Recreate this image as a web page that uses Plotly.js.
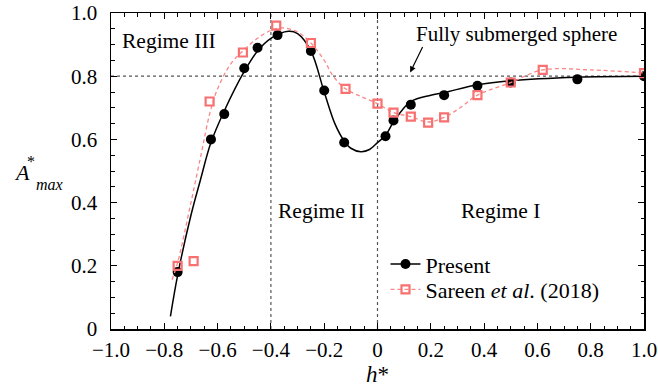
<!DOCTYPE html>
<html>
<head>
<meta charset="utf-8">
<script src="https://cdn.plot.ly/plotly-3.0.1.min.js"></script>
<style>html,body{margin:0;padding:0;background:#fff;}#chart{width:658px;height:391px;}</style>
</head>
<body>
<div id="chart"></div>
<script>
// Present study: measured points
const presentH = [-0.75, -0.625, -0.575, -0.5, -0.45, -0.375, -0.25, -0.2, -0.125, 0.03, 0.06, 0.125, 0.25, 0.375, 0.5, 0.75, 1.0];
const presentA = [0.18, 0.60, 0.68, 0.825, 0.89, 0.93, 0.88, 0.755, 0.59, 0.61, 0.66, 0.71, 0.74, 0.77, 0.78, 0.79, 0.80];
// Present study: fitted curve
const presentFitH = [-0.777, -0.75, -0.70, -0.665, -0.625, -0.575, -0.5, -0.45, -0.40, -0.334, -0.30, -0.25, -0.20, -0.16, -0.125, -0.10, -0.062, -0.03, 0.0, 0.03, 0.06, 0.125, 0.20, 0.25, 0.375, 0.5, 0.75, 1.0];
const presentFitA = [0.04, 0.17, 0.36, 0.47, 0.59, 0.69, 0.815, 0.88, 0.92, 0.942, 0.935, 0.88, 0.75, 0.65, 0.595, 0.572, 0.561, 0.568, 0.59, 0.612, 0.655, 0.72, 0.74, 0.748, 0.773, 0.786, 0.797, 0.80];
// Sareen et al. (2018): points
const sareenH = [-0.75, -0.69, -0.63, -0.505, -0.38, -0.25, -0.12, 0.0, 0.06, 0.125, 0.19, 0.25, 0.375, 0.5, 0.62, 1.0];
const sareenA = [0.20, 0.215, 0.72, 0.875, 0.96, 0.905, 0.76, 0.713, 0.685, 0.672, 0.653, 0.67, 0.74, 0.78, 0.82, 0.81];
// Sareen et al. (2018): dashed curve
const sareenFitH = [-0.771, -0.75, -0.70, -0.66, -0.63, -0.60, -0.55, -0.505, -0.45, -0.40, -0.36, -0.30, -0.25, -0.20, -0.166, -0.12, -0.06, 0.0, 0.06, 0.125, 0.19, 0.25, 0.31, 0.375, 0.5, 0.62, 0.8, 1.0];
const sareenFitA = [0.156, 0.21, 0.40, 0.56, 0.68, 0.76, 0.84, 0.88, 0.92, 0.945, 0.953, 0.94, 0.905, 0.85, 0.80, 0.76, 0.735, 0.713, 0.685, 0.672, 0.655, 0.67, 0.70, 0.74, 0.78, 0.82, 0.82, 0.81];

const xTickVals = [-1.0, -0.8, -0.6, -0.4, -0.2, 0, 0.2, 0.4, 0.6, 0.8, 1.0];
const xTickText = ['\u22121.0', '\u22120.8', '\u22120.6', '\u22120.4', '\u22120.2', '0', '0.2', '0.4', '0.6', '0.8', '1.0'];
const yTickVals = [0, 0.2, 0.4, 0.6, 0.8, 1.0];
const yTickText = ['0', '0.2', '0.4', '0.6', '0.8', '1.0'];

const PINK = 'rgb(248,112,112)';
const PINK_L = 'rgb(250,135,135)';
const FONT = 'Liberation Serif';

const traces = [
  {x: presentFitH, y: presentFitA, mode: 'lines', line: {color: 'black', width: 1.5, shape: 'spline', smoothing: 1}, showlegend: false, hoverinfo: 'skip'},
  {x: presentH, y: presentA, mode: 'markers', marker: {color: 'black', size: 10, symbol: 'circle'}, showlegend: false},
  {x: [null], y: [null], mode: 'lines+markers', name: 'Present', legend: 'legend', line: {color: 'black', width: 1.5}, marker: {color: 'black', size: 10}},
  {x: sareenFitH, y: sareenFitA, mode: 'lines', line: {color: PINK_L, width: 1.3, dash: '4px,3px', shape: 'spline', smoothing: 1}, showlegend: false, hoverinfo: 'skip'},
  {x: sareenH, y: sareenA, mode: 'markers', marker: {color: PINK, size: 8, symbol: 'square-open', line: {width: 2.2, color: PINK}}, showlegend: false},
  {x: [null], y: [null], mode: 'lines+markers', name: 'Sareen <i>et al</i>. (2018)', legend: 'legend2', line: {color: PINK_L, width: 1.3, dash: '4px,3px'}, marker: {color: PINK, size: 8, symbol: 'square-open', line: {width: 2.2, color: PINK}}}
];

const axisCommon = {
  showline: true, mirror: 'ticks', linecolor: 'black', linewidth: 1.5,
  ticks: 'inside', ticklen: 6, tickwidth: 1.2, tickcolor: 'black',
  showgrid: false, zeroline: false,
  tickfont: {family: FONT, size: 21, color: 'black'},
  minor: {tickmode: 'linear', tick0: 0, dtick: 0.05, ticks: 'inside', ticklen: 3.5, tickwidth: 1, tickcolor: 'black', showgrid: false}
};

const legendCommon = {x: 0.515, xanchor: 'left', yanchor: 'middle', bgcolor: 'rgba(0,0,0,0)', borderwidth: 0,
  font: {family: FONT, size: 22, color: 'black'}, itemwidth: 30};

const layout = {
  width: 658, height: 391,
  margin: {l: 111, r: 14, t: 13, b: 62},
  paper_bgcolor: 'white', plot_bgcolor: 'white',
  font: {family: FONT, color: 'black', size: 20},
  xaxis: Object.assign({}, axisCommon, {range: [-1, 1], tickmode: 'array', tickvals: xTickVals, ticktext: xTickText, ticklabelstandoff: 1,
    title: {text: '<i>h</i>*', font: {family: FONT, size: 23}, standoff: 1}}),
  yaxis: Object.assign({}, axisCommon, {range: [0, 1], tickmode: 'array', tickvals: yTickVals, ticktext: yTickText, ticklabelstandoff: 8}),
  legend: Object.assign({}, legendCommon, {y: 0.205}),
  legend2: Object.assign({}, legendCommon, {y: 0.125}),
  shapes: [
    {type: 'line', xref: 'x', yref: 'y', x0: -1, x1: 1, y0: 0.8, y1: 0.8, line: {color: '#555', width: 1.2, dash: 'dot'}, layer: 'below'},
    {type: 'line', xref: 'x', yref: 'y', x0: -0.4, x1: -0.4, y0: 0, y1: 1, line: {color: '#555', width: 1.2, dash: 'dot'}, layer: 'below'},
    {type: 'line', xref: 'x', yref: 'y', x0: 0, x1: 0, y0: 0, y1: 1, line: {color: '#555', width: 1.2, dash: 'dot'}, layer: 'below'}
  ],
  annotations: [
    {x: -0.782, y: 0.912, xref: 'x', yref: 'y', text: 'Regime III', showarrow: false, font: {family: FONT, size: 21.5}},
    {x: -0.21, y: 0.372, xref: 'x', yref: 'y', text: 'Regime II', showarrow: false, font: {family: FONT, size: 21.5}},
    {x: 0.46, y: 0.372, xref: 'x', yref: 'y', text: 'Regime I', showarrow: false, font: {family: FONT, size: 21.5}},
    {x: 0.52, y: 0.935, xref: 'x', yref: 'y', text: 'Fully submerged sphere', showarrow: false, font: {family: FONT, size: 21}},
    {x: 0.1226, y: 0.812, xref: 'x', yref: 'y', ax: 0.172, ay: 0.897, axref: 'x', ayref: 'y', text: '', showarrow: true,
      arrowhead: 2, arrowsize: 1, arrowwidth: 1.2, arrowcolor: 'black', standoff: 0},
    {x: (12 - 111) / 533, y: (328.5 - 172) / 315, xref: 'paper', yref: 'paper', text: '<i>A</i>', showarrow: false, font: {family: FONT, size: 22}},
    {x: (25 - 111) / 533, y: (328.5 - 162) / 315, xref: 'paper', yref: 'paper', text: '*', showarrow: false, font: {family: FONT, size: 16}},
    {x: (34 - 111) / 533, y: (328.5 - 184) / 315, xref: 'paper', yref: 'paper', text: '<i>max</i>', showarrow: false, font: {family: FONT, size: 16}}
  ]
};

Plotly.newPlot('chart', traces, layout, {displayModeBar: false, staticPlot: true});
</script>
</body>
</html>
